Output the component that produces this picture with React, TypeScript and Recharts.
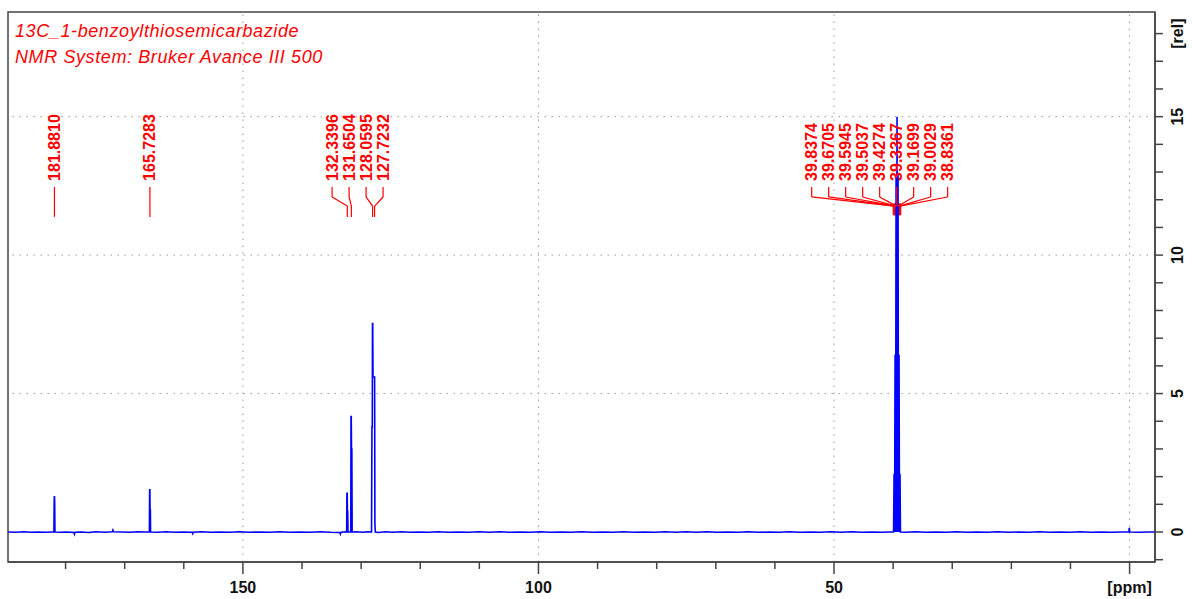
import {
  LineChart,
  Line,
  XAxis,
  YAxis,
  ReferenceLine,
  ReferenceArea,
  ReferenceDot,
} from "recharts";

// spectrum trace: [ppm, rel. intensity]
const spectrum: [number, number][] = [
  [189.7, 0.0], [188.4, -0.01], [187.1, 0.01], [185.8, -0.01], [184.6, 0.0], [183.4, -0.01], [182.4, 0.0],
  [181.97, 0], [181.93, 1.05], [181.9, 1.27], [181.87, 1.27], [181.84, 1.05], [181.8, 0],
  [180.9, -0.01], [179.8, 0.0], [178.6, -0.02], [178.5, -0.08], [178.4, -0.01], [177.4, 0.0], [176.1, -0.02],
  [174.9, 0.01], [173.3, -0.01], [172.1, 0.01], [172.0, 0.07], [171.9, 0.01], [170.6, 0.0], [169.1, -0.01],
  [167.9, 0.01], [166.6, 0.0],
  [165.82, 0], [165.78, 1.52], [165.74, 1.52], [165.71, 0.8], [165.66, 0.8], [165.62, 0],
  [164.4, -0.01], [163.0, 0.01], [161.5, -0.01], [160.1, 0.0], [158.6, -0.01], [158.5, -0.06], [158.4, -0.01],
  [157.0, 0.01], [155.4, -0.01], [153.9, 0.0], [152.2, -0.01], [150.6, 0.01], [148.9, -0.01], [147.2, 0.0],
  [145.5, -0.01], [143.8, 0.01], [142.1, -0.01], [140.4, 0.0], [138.6, -0.01], [136.9, 0.01], [135.2, -0.01],
  [133.6, -0.02], [133.5, -0.07], [133.4, -0.01], [132.6, 0.01],
  [132.45, 0], [132.4, 1.4], [132.36, 1.4], [132.32, 0.75], [132.27, 0.75], [132.22, 0],
  [131.75, 0], [131.71, 4.17], [131.67, 4.17], [131.63, 3.0], [131.57, 3.0], [131.52, 0],
  [130.8, 0.01], [129.7, -0.01], [128.9, 0.01], [128.24, 0],
  [128.17, 3.8], [128.11, 3.8], [128.08, 7.53], [128.04, 7.53], [127.99, 5.6], [127.72, 5.6], [127.67, 0.3], [127.6, 0],
  [127.1, -0.02], [125.9, 0.01], [124.6, -0.01], [123.2, 0.01], [121.7, -0.01], [120.3, 0.0], [118.6, -0.01],
  [117.0, 0.01], [115.3, -0.01], [113.6, 0.0], [111.8, -0.01], [110.1, 0.01], [108.3, -0.01], [106.6, 0.01],
  [104.9, -0.01], [103.1, 0.0], [101.4, -0.01], [99.7, 0.01], [97.9, -0.01], [96.2, 0.0], [94.4, -0.01],
  [92.7, 0.01], [90.9, -0.01], [89.2, 0.0], [87.4, -0.01], [85.6, 0.01], [83.9, -0.01], [82.1, 0.0],
  [80.3, -0.01], [78.6, 0.01], [76.8, -0.01], [75.0, 0.01], [73.3, -0.01], [71.5, 0.01], [69.8, -0.01],
  [68.0, 0.0], [66.3, -0.01], [64.5, 0.01], [62.8, -0.01], [61.0, 0.0], [59.3, -0.01], [57.5, 0.01],
  [55.8, -0.01], [54.0, 0.0], [52.3, -0.01], [50.5, 0.01], [48.8, -0.01], [47.0, 0.01], [45.3, -0.01],
  [43.5, 0.0], [41.8, -0.01], [40.6, 0.0],
  [39.93, 0], [39.84, 2.1], [39.76, 0], [39.67, 6.4], [39.59, 0], [39.5, 12.9], [39.42, 0], [39.34, 15.0],
  [39.25, 0], [39.17, 12.9], [39.09, 0], [39.0, 6.4], [38.92, 0], [38.84, 2.1], [38.76, 0],
  [37.9, -0.01], [36.2, 0.01], [34.5, -0.01], [32.8, 0.0], [31.0, -0.01], [29.3, 0.01], [27.5, -0.01],
  [25.8, 0.0], [24.0, -0.01], [22.3, 0.01], [20.5, -0.01], [18.8, 0.0], [17.0, -0.01], [15.3, 0.01],
  [13.5, -0.01], [11.8, 0.0], [10.0, -0.01], [8.3, 0.01], [6.5, -0.01], [4.8, 0.0], [3.0, -0.01],
  [1.4, 0.0], [0.12, 0], [0.05, 0.15], [-0.03, 0], [-1.6, -0.01], [-3.0, 0.0], [-4.3, 0],
];

const singleLabels = [181.881, 165.7283];
const aromaticLabels = [132.3396, 131.6504, 128.0595, 127.7232];
const solventLabels = [39.8374, 39.6705, 39.5945, 39.5037, 39.4274, 39.3367, 39.1699, 39.0029, 38.8361];

const ppmTicks = [180, 170, 160, 150, 140, 130, 120, 110, 100, 90, 80, 70, 60, 50, 40, 30, 20, 10, 0];
const relTicks = [-1, 0, 1, 2, 3, 4, 5, 6, 7, 8, 9, 10, 11, 12, 13, 14, 15, 16, 17, 18];

const data = spectrum.map(([ppm, y]) => ({ ppm, y }));

const X_MIN = -4.3;
const X_MAX = 189.74;
const Y_MIN = -1.083;
const Y_MAX = 18.78;
const GAP = 2.875; // label spacing in ppm
const RED = "#ff0000";
const FONT = "'Liberation Sans', Arial, sans-serif";

// label groups: where the row of labels is centred, and whether a tail runs down to the peak
const groups = [
  { values: [singleLabels[0]], center: 181.88, tail: true },
  { values: [singleLabels[1]], center: 165.73, tail: true },
  { values: aromaticLabels, center: 130.6, tail: true },
  { values: solventLabels, center: 42.28, tail: false },
];

const PpmTick = (props: any) => {
  const { x, y, payload } = props;
  const v = payload.value;
  const major = v % 50 === 0;
  return (
    <g>
      <line x1={x} x2={x} y1={y} y2={y + (major ? 12 : 7)} stroke="#444" strokeWidth={1.5} />
      {major && (
        <text x={x} y={y + 31} textAnchor="middle" fontFamily={FONT} fontWeight="bold" fontSize={16} fill="#111">
          {v === 0 ? "[ppm]" : v}
        </text>
      )}
    </g>
  );
};

const RelTick = (props: any) => {
  const { x, y, payload } = props;
  const v = payload.value;
  const label = v === 18 ? "[rel]" : v % 5 === 0 && v >= 0 ? String(v) : null;
  const tx = x + 23;
  return (
    <g>
      <line x1={x} x2={x + 8} y1={y} y2={y} stroke="#444" strokeWidth={1.5} />
      {label && (
        <text
          x={tx}
          y={y}
          transform={`rotate(-90 ${tx} ${y})`}
          textAnchor="middle"
          dominantBaseline="central"
          fontFamily={FONT}
          fontWeight="bold"
          fontSize={16}
          fill="#111"
        >
          {label}
        </text>
      )}
    </g>
  );
};

const PeakLabel = (text: string) => (p: any) => (
  <text
    x={p.cx}
    y={p.cy}
    transform={`rotate(-90 ${p.cx} ${p.cy})`}
    textAnchor="start"
    dominantBaseline="central"
    fontFamily={FONT}
    fontWeight="bold"
    fontSize={16}
    fill={RED}
  >
    {text}
  </text>
);

const NmrSpectrum = () => {
  const annotations: any[] = [];
  groups.forEach((g, gi) => {
    const n = g.values.length;
    g.values.forEach((v, i) => {
      const lx = g.center + ((n - 1) / 2 - i) * GAP;
      const k = `${gi}-${i}`;
      annotations.push(
        <ReferenceDot key={`t${k}`} x={lx} y={12.68} r={0} shape={PeakLabel(v.toFixed(4))} />,
        <ReferenceLine key={`a${k}`} segment={[{ x: lx, y: 12.46 }, { x: lx, y: 12.1 }]} stroke={RED} strokeWidth={1.2} />,
        <ReferenceLine key={`b${k}`} segment={[{ x: lx, y: 12.1 }, { x: v, y: 11.77 }]} stroke={RED} strokeWidth={1.2} />
      );
      if (g.tail) {
        annotations.push(
          <ReferenceLine key={`c${k}`} segment={[{ x: v, y: 11.77 }, { x: v, y: 11.38 }]} stroke={RED} strokeWidth={1.2} />
        );
      }
    });
  });

  return (
    <div style={{ position: "absolute", left: 0, top: 0, width: 1192, height: 599, background: "#fff" }}>
      <LineChart width={1192} height={599} data={data} margin={{ top: 12, right: 7, bottom: 7, left: 8 }}>
        <XAxis
          dataKey="ppm"
          type="number"
          domain={[X_MIN, X_MAX]}
          reversed
          allowDataOverflow
          ticks={ppmTicks}
          interval={0}
          height={30}
          tickSize={0}
          tickMargin={0}
          tick={PpmTick}
          axisLine={{ stroke: "#444", strokeWidth: 1.5 }}
        />
        <YAxis
          orientation="right"
          type="number"
          domain={[Y_MIN, Y_MAX]}
          allowDataOverflow
          ticks={relTicks}
          interval={0}
          width={30}
          tickSize={0}
          tickMargin={0}
          tick={RelTick}
          axisLine={{ stroke: "#444", strokeWidth: 1.5 }}
        />
        {[150, 100, 50, 0].map((v) => (
          <ReferenceLine key={`gx${v}`} x={v} stroke="#9a9a9a" strokeDasharray="1.5 5.5" />
        ))}
        {[5, 10, 15].map((v) => (
          <ReferenceLine key={`gy${v}`} y={v} stroke="#9a9a9a" strokeDasharray="1.5 5.5" />
        ))}
        <ReferenceArea
          x1={X_MAX}
          x2={X_MIN}
          y1={Y_MIN}
          y2={Y_MAX}
          fill="none"
          stroke="#444"
          strokeWidth={1.5}
          ifOverflow="visible"
        />
        <Line
          type="linear"
          dataKey="y"
          stroke="#0000ff"
          strokeWidth={1.6}
          dot={false}
          isAnimationActive={false}
        />
        {annotations}
        <ReferenceArea x1={40.0} x2={38.7} y1={11.45} y2={11.85} fill={RED} fillOpacity={1} stroke={RED} />
      </LineChart>
      <div
        style={{
          position: "absolute",
          left: 15,
          top: 18,
          fontFamily: FONT,
          fontStyle: "italic",
          fontSize: 18,
          letterSpacing: 0.6,
          lineHeight: "26px",
          color: RED,
          pointerEvents: "none",
        }}
      >
        <div>13C_1-benzoylthiosemicarbazide</div>
        <div>NMR System: Bruker Avance III 500</div>
      </div>
    </div>
  );
};

export default NmrSpectrum;
